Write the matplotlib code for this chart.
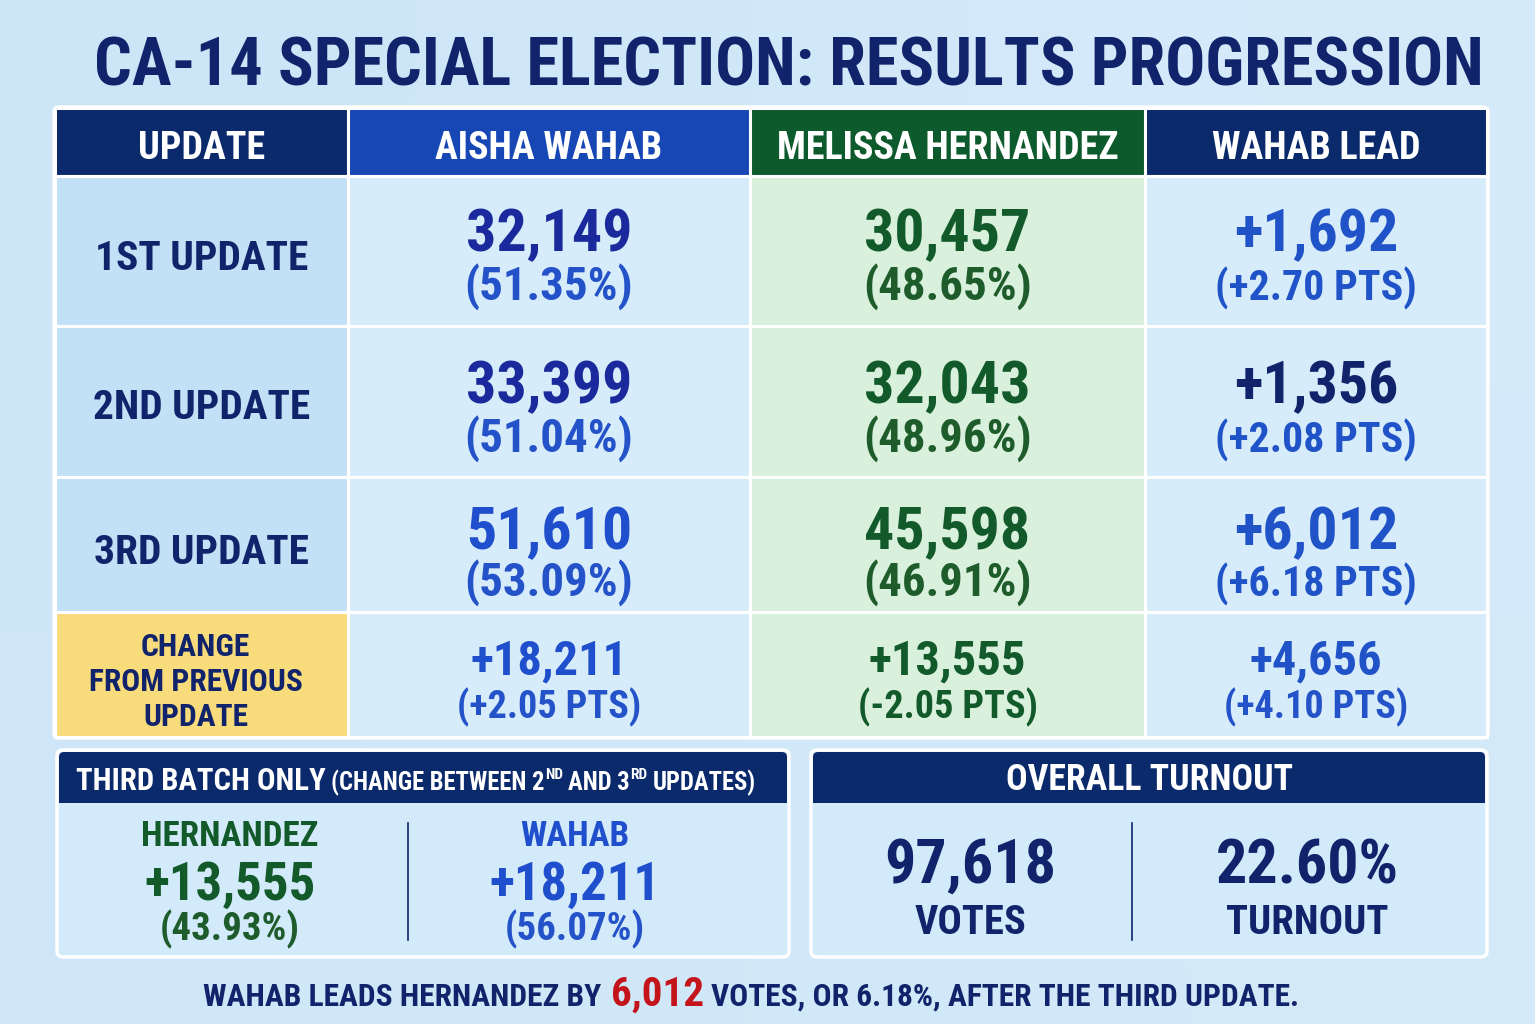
import numpy as np
import matplotlib
matplotlib.use('Agg')
import matplotlib.pyplot as plt
from matplotlib import font_manager as fm
from matplotlib.patches import Rectangle, FancyBboxPatch

# ---------------- data ----------------
title = "CA-14 SPECIAL ELECTION: RESULTS PROGRESSION"
columns = ["UPDATE", "AISHA WAHAB", "MELISSA HERNANDEZ", "WAHAB LEAD"]
updates = ["1ST UPDATE", "2ND UPDATE", "3RD UPDATE"]
wahab_votes = [32149, 33399, 51610]
wahab_pct = [51.35, 51.04, 53.09]
hernandez_votes = [30457, 32043, 45598]
hernandez_pct = [48.65, 48.96, 46.91]
lead_votes = [1692, 1356, 6012]
lead_pts = [2.70, 2.08, 6.18]
change_label = ["CHANGE", "FROM PREVIOUS", "UPDATE"]
change_votes = [18211, 13555, 4656]
change_pts = [2.05, -2.05, 4.10]
batch_names = ["HERNANDEZ", "WAHAB"]
batch_votes = [13555, 18211]
batch_pct = [43.93, 56.07]
total_votes = 97618
turnout_pct = 22.60

# ---------------- fonts ----------------
avail = {f.name for f in fm.fontManager.ttflist}
FONT = "DejaVu Sans"
for cand in ["Liberation Sans Narrow", "Roboto Condensed", "Open Sans Condensed", "DejaVu Sans"]:
    if cand in avail:
        FONT = cand
        break
STRETCH = 'condensed'

# ---------------- colours ----------------
NAVY = '#11246b'
HDR_NAVY = '#0b2a6c'
HDR_BLUE = '#1747b5'
HDR_GREEN = '#0d5a2d'
W_DARK = '#1a2a9c'
W_BLUE = '#1f4fcc'
W_PCT = '#2452c9'
H_DARK = '#135a2b'
H_PCT = '#1e5c2c'
L_BLUE = '#2153c8'
RED = '#c4141b'
CELL_COLS = ['#c2e1f7', '#d7ecfa', '#d8f0dc', '#d7ecfa']
YELLOW = '#f8dc7c'
BOX_BODY = '#d3eafa'

W, H = 1535, 1024
fig = plt.figure(figsize=(W / 100, H / 100), dpi=100)
ax = fig.add_axes([0, 0, 1, 1])
ax.set_xlim(0, W)
ax.set_ylim(H, 0)
ax.axis('off')

# background gradient
bg = np.array([[[0.80, 0.90, 0.97], [0.84, 0.92, 0.98]],
               [[0.81, 0.905, 0.97], [0.83, 0.915, 0.975]]])
ax.imshow(bg, extent=[0, W, H, 0], interpolation='bicubic', aspect='auto', zorder=0)

R = fig.canvas.get_renderer()


def width_of(s, size):
    t = ax.text(0, 0, s, fontsize=size, fontfamily=FONT, fontweight='bold', fontstretch=STRETCH)
    w = t.get_window_extent(R).width
    t.remove()
    return w


def size_for(s, target):
    return 40 * target / width_of(s, 40)


def txt(x, y, s, size, color, ha='center', va='baseline', z=5):
    return ax.text(x, y, s, fontsize=size, color=color, ha=ha, va=va, fontfamily=FONT,
                   fontweight='bold', fontstretch=STRETCH, zorder=z)


def runs(xc, y, parts):
    # parts: (text, size, color, dy, gap_before)
    ws = []
    for s, sz, c, dy, gap in parts:
        g = (width_of("A A", sz) - width_of("AA", sz)) if gap else 0
        ws.append((g, width_of(s, sz)))
    total = sum(g + w for g, w in ws)
    x = xc - total / 2
    for (s, sz, c, dy, gap), (g, w) in zip(parts, ws):
        x += g
        txt(x, y + dy, s, sz, c, ha='left')
        x += w


# ---------------- title ----------------
txt(789, 85, title, size_for(title, 1388), NAVY)

# ---------------- table ----------------
xe = [55, 348, 750, 1145, 1487]
ye = [108, 176, 326, 477, 612, 737]
xc = [(xe[i] + xe[i + 1]) / 2 for i in range(4)]

ax.add_patch(FancyBboxPatch((xe[0] - 2, ye[0] - 2), xe[-1] - xe[0] + 4, ye[-1] - ye[0] + 4,
                            boxstyle="round,pad=0,rounding_size=6", fc='white', ec='white', lw=1, zorder=1))
hdr_cols = [HDR_NAVY, HDR_BLUE, HDR_GREEN, HDR_NAVY]
for j in range(4):
    ax.add_patch(Rectangle((xe[j], ye[0]), xe[j + 1] - xe[j], ye[1] - ye[0],
                           fc=hdr_cols[j], ec='white', lw=2.2, zorder=2))
    for i in range(1, 5):
        fc = YELLOW if (i == 4 and j == 0) else CELL_COLS[j]
        ax.add_patch(Rectangle((xe[j], ye[i]), xe[j + 1] - xe[j], ye[i + 1] - ye[i],
                               fc=fc, ec='white', lw=2.2, zorder=2))

hs = size_for("MELISSA HERNANDEZ", 341)
for j, c in enumerate(columns):
    txt(xc[j], 159, c, hs, 'white')

# row labels
rls = size_for("2ND UPDATE", 217)
row_base = [270, 419, 564]
for i, lab in enumerate(updates):
    txt(xc[0], row_base[i], lab, rls, NAVY)
cls = size_for("FROM PREVIOUS", 214)
for k, lab in enumerate(change_label):
    txt(xc[0] - 6, 656 + 35 * k, lab, cls, NAVY)

# values
bns = size_for("32,149", 166)
ps = size_for("(51.35%)", 169)
lps = size_for("(+2.70 PTS)", 201)
num_base = [251, 403, 549]
pct_base = [300, 452, 596]
w_num_cols = [W_DARK, W_DARK, W_BLUE]
l_num_cols = [L_BLUE, NAVY, L_BLUE]
for i in range(3):
    txt(xc[1], num_base[i], f"{wahab_votes[i]:,}", bns, w_num_cols[i])
    txt(xc[1], pct_base[i], f"({wahab_pct[i]:.2f}%)", ps, W_PCT)
    txt(xc[2], num_base[i], f"{hernandez_votes[i]:,}", bns, H_DARK)
    txt(xc[2], pct_base[i], f"({hernandez_pct[i]:.2f}%)", ps, H_PCT)
    txt(xc[3], num_base[i], f"+{lead_votes[i]:,}", bns, l_num_cols[i])
    txt(xc[3], pct_base[i], f"({lead_pts[i]:+.2f} PTS)", lps, L_BLUE)

cns = size_for("+18,211", 157)
cps = size_for("(+2.05 PTS)", 184)
ch_num_cols = [W_BLUE, H_DARK, L_BLUE]
ch_pct_cols = [W_PCT, H_DARK, W_PCT]
for j in range(3):
    txt(xc[j + 1], 674, f"+{change_votes[j]:,}", cns, ch_num_cols[j])
    txt(xc[j + 1], 718, f"({change_pts[j]:+.2f} PTS)", cps, ch_pct_cols[j])

# ---------------- bottom boxes ----------------
def box(x0, x1, y0=750, y1=957, hy=803):
    ax.add_patch(FancyBboxPatch((x0, y0), x1 - x0, y1 - y0, boxstyle="round,pad=0,rounding_size=6",
                                fc=BOX_BODY, ec='white', lw=2.5, zorder=2))
    ax.add_patch(FancyBboxPatch((x0 + 2, y0 + 2), x1 - x0 - 4, hy - y0 - 2,
                                boxstyle="round,pad=0,rounding_size=5", fc=HDR_NAVY, ec='none', zorder=3))
    ax.add_patch(Rectangle((x0 + 2, y0 + 20), x1 - x0 - 4, hy - y0 - 20, fc=HDR_NAVY, ec='none', zorder=3))


box(57, 789)
box(811, 1487)

# left header with superscripts
A = size_for("THIRD BATCH ONLY", 250)
B = A * 0.80
S = A * 0.50
parts = [("THIRD BATCH ONLY", A, 'white', 0, False),
         ("(CHANGE BETWEEN 2", B, 'white', 0, True),
         ("ND", S, 'white', -11, False),
         ("AND 3", B, 'white', 0, True),
         ("RD", S, 'white', -11, False),
         ("UPDATES)", B, 'white', 0, True)]
runs(416, 790, parts)

bcx = [230, 575]
bname_cols = [H_DARK, W_BLUE]
bpct_cols = [H_PCT, W_PCT]
bnms = size_for("HERNANDEZ", 177)
bnum = size_for("+13,555", 171)
bpcs = size_for("(43.93%)", 140)
for k in range(2):
    txt(bcx[k], 846, batch_names[k], bnms, bname_cols[k])
    txt(bcx[k], 900, f"+{batch_votes[k]:,}", bnum, bname_cols[k])
    txt(bcx[k], 940, f"({batch_pct[k]:.2f}%)", bpcs, bpct_cols[k])
ax.plot([408, 408], [823, 940], color=NAVY, lw=1.2, zorder=4)

# right box
txt(1149, 790, "OVERALL TURNOUT", size_for("OVERALL TURNOUT", 287), 'white')
tbs = size_for("97,618", 172)
tls = size_for("TURNOUT", 162)
txt(970, 883, f"{total_votes:,}", tbs, NAVY)
txt(1307, 883, f"{turnout_pct:.2f}%", tbs, NAVY)
txt(970, 934, "VOTES", tls, NAVY)
txt(1307, 934, "TURNOUT", tls, NAVY)
ax.plot([1132, 1132], [823, 940], color=NAVY, lw=1.2, zorder=4)

# ---------------- footer ----------------
F = size_for("WAHAB LEADS HERNANDEZ BY", 398)
fparts = [("WAHAB LEADS HERNANDEZ BY", F, NAVY, 0, False),
          (f"{lead_votes[-1]:,}", F * 1.3, RED, 0, True),
          (f"VOTES, OR {lead_pts[-1]:.2f}%, AFTER THE THIRD UPDATE.", F, NAVY, 0, True)]
runs(751, 1006, fparts)

fig.savefig('out.png', dpi=100)
